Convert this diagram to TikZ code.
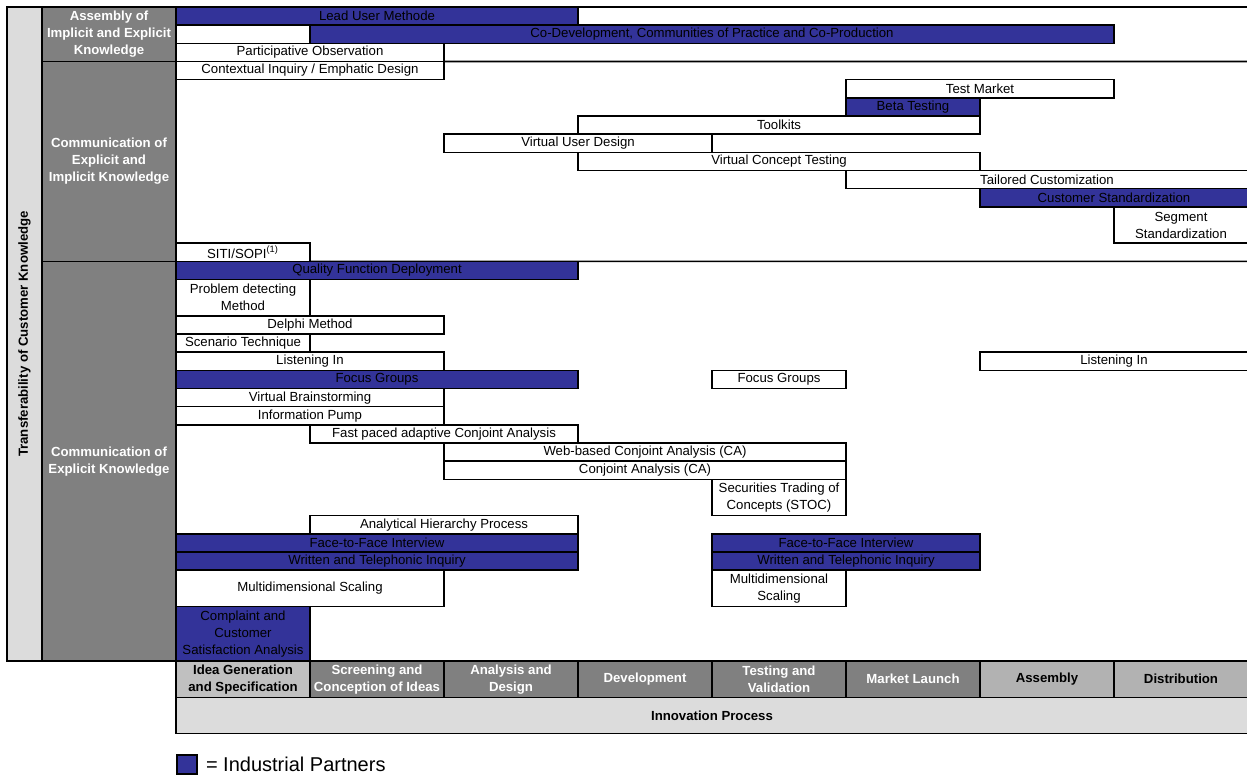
\documentclass[tikz,border=0pt]{standalone}
\usepackage{fontspec}
\setmainfont{Liberation Sans}
\definecolor{ipblue}{HTML}{333399}
\definecolor{dgray}{HTML}{808080}
\definecolor{lgray}{HTML}{DCDCDC}
\definecolor{mgray}{HTML}{C0C0C0}
\definecolor{agray}{HTML}{B2B2B2}
\newcommand\mybox[7]{\node[#2, minimum width={67pt*(#4-#3)}, minimum height={9.08333pt*(#6-#5)}] (#1) at ({176+67*(#3+#4)},{7+9.08333*(#5+#6)}) {#7};}
\tikzset{
  cell/.style={draw=black, line width=0.8pt, inner sep=0pt, outer sep=0pt, align=center, font=\fontsize{6.6}{8.5}\selectfont},
  wcell/.style={cell, fill=white},
  bcell/.style={cell, fill=ipblue},
  gcell/.style={cell, fill=dgray, text=white, font=\fontsize{6.6}{8.5}\selectfont\bfseries},
  phd/.style={cell, fill=dgray, text=white, font=\fontsize{6.6}{8.5}\selectfont\bfseries},
  phl/.style={cell, fill=mgray, font=\fontsize{6.6}{8.5}\selectfont\bfseries},
  pha/.style={cell, fill=agray, font=\fontsize{6.6}{8.5}\selectfont\bfseries},
  innov/.style={cell, fill=lgray, font=\fontsize{6.6}{8.5}\selectfont\bfseries},
  sepline/.style={draw=black, line width=0.8pt},
}
\begin{document}
\begin{tikzpicture}[x=0.5pt,y=-0.5pt]
\useasboundingbox (0,0) rectangle (1247,776);
% left column
\node[cell, fill=lgray, rotate=90, minimum width=327pt, minimum height=17.5pt, font=\fontsize{6.6}{8.5}\selectfont\bfseries] (trans) at (24.5,334) {Transferability of Customer Knowledge};
\mybox{s1}{gcell}{-1}{0}{0}{3}{Assembly of\\Implicit and Explicit\\Knowledge}
\mybox{s2}{gcell}{-1}{0}{3}{14}{Communication of\\Explicit and\\Implicit Knowledge}
\mybox{s3}{gcell}{-1}{0}{14}{36}{Communication of\\Explicit Knowledge}
% separator lines
\coordinate (re0) at (1248,7);
\coordinate (re1) at (1248,{7+18.16667*3});
\coordinate (re2) at (1248,{7+18.16667*14});
\draw[sepline] (s1.north east) -- (re0);
\draw[sepline] (s1.south east) -- (re1);
\draw[sepline] (s2.south east) -- (re2);
% section 1
\mybox{lum}{bcell}{0}{3}{0}{1}{Lead User Methode}
\mybox{cdw}{wcell}{0}{1}{1}{2}{}
\mybox{cdv}{bcell}{1}{7}{1}{2}{Co-Development, Communities of Practice and Co-Production}
\mybox{po}{wcell}{0}{2}{2}{3}{Participative Observation}
% section 2
\mybox{ci}{wcell}{0}{2}{3}{4}{Contextual Inquiry / Emphatic Design}
\mybox{tm}{wcell}{5}{7}{4}{5}{Test Market}
\mybox{bt}{bcell}{5}{6}{5}{6}{Beta Testing}
\mybox{tk}{wcell}{3}{6}{6}{7}{Toolkits}
\mybox{vud}{wcell}{2}{4}{7}{8}{Virtual User Design}
\mybox{vct}{wcell}{3}{6}{8}{9}{Virtual Concept Testing}
\mybox{tcu}{wcell}{5}{8}{9}{10}{Tailored Customization}
\mybox{cs}{bcell}{6}{8}{10}{11}{Customer Standardization}
\mybox{ss}{wcell}{7}{8}{11}{13}{Segment\\Standardization}
\mybox{siti}{wcell}{0}{1}{13}{14}{SITI/SOPI\textsuperscript{(1)}}
% section 3
\mybox{qfd}{bcell}{0}{3}{14}{15}{Quality Function Deployment}
\mybox{pdm}{wcell}{0}{1}{15}{17}{Problem detecting\\Method}
\mybox{dm}{wcell}{0}{2}{17}{18}{Delphi Method}
\mybox{st}{wcell}{0}{1}{18}{19}{Scenario Technique}
\mybox{li}{wcell}{0}{2}{19}{20}{Listening In}
\mybox{lib}{wcell}{6}{8}{19}{20}{Listening In}
\mybox{fg}{bcell}{0}{3}{20}{21}{Focus Groups}
\mybox{fgb}{wcell}{4}{5}{20}{21}{Focus Groups}
\mybox{vb}{wcell}{0}{2}{21}{22}{Virtual Brainstorming}
\mybox{ip}{wcell}{0}{2}{22}{23}{Information Pump}
\mybox{fpa}{wcell}{1}{3}{23}{24}{Fast paced adaptive Conjoint Analysis}
\mybox{wca}{wcell}{2}{5}{24}{25}{Web-based Conjoint Analysis (CA)}
\mybox{ca}{wcell}{2}{5}{25}{26}{Conjoint Analysis (CA)}
\mybox{stoc}{wcell}{4}{5}{26}{28}{Securities Trading of\\Concepts (STOC)}
\mybox{ahp}{wcell}{1}{3}{28}{29}{Analytical Hierarchy Process}
\mybox{ffa}{bcell}{0}{3}{29}{30}{Face-to-Face Interview}
\mybox{ffb}{bcell}{4}{6}{29}{30}{Face-to-Face Interview}
\mybox{wta}{bcell}{0}{3}{30}{31}{Written and Telephonic Inquiry}
\mybox{wtb}{bcell}{4}{6}{30}{31}{Written and Telephonic Inquiry}
\mybox{mdsa}{wcell}{0}{2}{31}{33}{Multidimensional Scaling}
\mybox{mdsb}{wcell}{4}{5}{31}{33}{Multidimensional\\Scaling}
\mybox{ccs}{bcell}{0}{1}{33}{36}{Complaint and\\Customer\\Satisfaction Analysis}
% phases
\mybox{p1}{phl}{0}{1}{36}{38}{Idea Generation\\and Specification}
\mybox{p2}{phd}{1}{2}{36}{38}{Screening and\\Conception of Ideas}
\mybox{p3}{phd}{2}{3}{36}{38}{Analysis and\\Design}
\mybox{p4}{phd}{3}{4}{36}{38}{Development}
\mybox{p5}{phd}{4}{5}{36}{38}{Testing and\\Validation}
\mybox{p6}{phd}{5}{6}{36}{38}{Market Launch}
\mybox{p7}{pha}{6}{7}{36}{38}{Assembly}
\mybox{p8}{pha}{7}{8}{36}{38}{Distribution}
\mybox{inn}{innov}{0}{8}{38}{40}{Innovation Process}
% legend
\node[draw=black, line width=0.8pt, fill=ipblue, minimum width=10pt, minimum height=9.5pt, inner sep=0pt, anchor=north west] (leg) at (176,754) {};
\node[anchor=west, inner sep=0pt, font=\fontsize{10}{12}\selectfont] (legt) at ([xshift=4pt]leg.east) {= Industrial Partners};
\end{tikzpicture}
\end{document}
